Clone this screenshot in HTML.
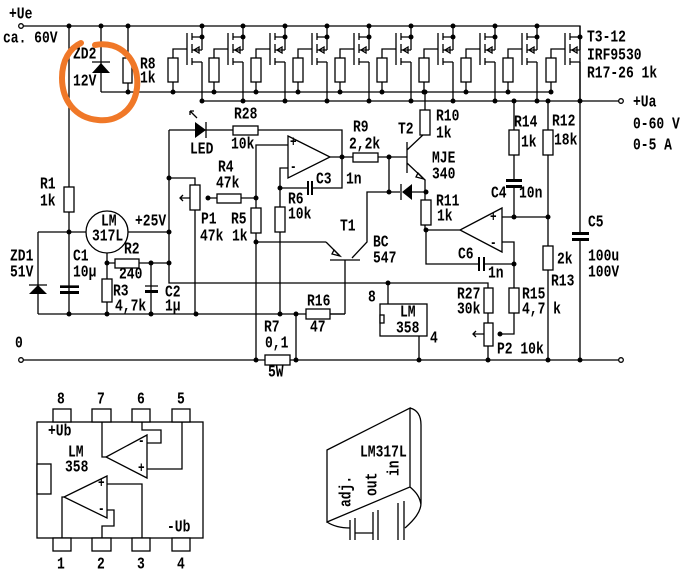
<!DOCTYPE html>
<html><head><meta charset="utf-8">
<style>
html,body{margin:0;padding:0;background:#fff;}
svg{display:block;}
text{font-family:"Liberation Mono",monospace;font-weight:bold;font-size:13px;fill:#000;transform-box:fill-box;transform-origin:0 100%;transform:scaleY(1.3);}
.l{stroke:#000;stroke-width:1.3;fill:none;}
.r{stroke:#000;stroke-width:1.3;fill:#fff;}
.d{fill:#000;}
</style></head>
<body>
<svg width="681" height="575" viewBox="0 0 681 575" xmlns="http://www.w3.org/2000/svg">
<defs>
<g id="m">
 <path class="l" d="M0,0V24 M0,36V76 M-15,7V39 M-10,7V14 M-10,18V27 M-10,32V39 M-10,11H0 M-10,24H0 M-10,36H0 M-15,23H-29V32 M-29,56V66"/>
 <path class="l" d="M-8,24L-3,21V27Z"/>
 <rect class="r" x="-34" y="32" width="10" height="24"/>
 <circle class="d" cx="0" cy="11" r="2.5"/>
 <circle class="d" cx="-29" cy="66" r="2.5"/>
</g>
</defs>

<!-- rails -->
<path class="l" d="M23,26H580V101 M202,101H619 M101,92H550 M23,360H619"/>
<circle class="r" cx="21" cy="26" r="2.3"/>
<circle class="r" cx="621" cy="101" r="2.3"/>
<circle class="r" cx="21" cy="360" r="2.3"/>
<circle class="r" cx="621" cy="360" r="2.3"/>

<use href="#m" x="202" y="26"/><use href="#m" x="243" y="26"/><use href="#m" x="285" y="26"/>
<use href="#m" x="327" y="26"/><use href="#m" x="369" y="26"/><use href="#m" x="411" y="26"/>
<use href="#m" x="453" y="26"/><use href="#m" x="495" y="26"/><use href="#m" x="537" y="26"/>
<use href="#m" x="580" y="26"/>
<g class="d">
<circle cx="69" cy="26" r="2.5"/><circle cx="101" cy="26" r="2.5"/><circle cx="128" cy="26" r="2.5"/>
<circle cx="202" cy="26" r="2.5"/><circle cx="243" cy="26" r="2.5"/><circle cx="285" cy="26" r="2.5"/>
<circle cx="327" cy="26" r="2.5"/><circle cx="369" cy="26" r="2.5"/><circle cx="411" cy="26" r="2.5"/>
<circle cx="453" cy="26" r="2.5"/><circle cx="495" cy="26" r="2.5"/><circle cx="537" cy="26" r="2.5"/>
<circle cx="202" cy="101" r="2.5"/><circle cx="243" cy="101" r="2.5"/><circle cx="285" cy="101" r="2.5"/>
<circle cx="327" cy="101" r="2.5"/><circle cx="369" cy="101" r="2.5"/><circle cx="411" cy="101" r="2.5"/>
<circle cx="453" cy="101" r="2.5"/><circle cx="495" cy="101" r="2.5"/><circle cx="537" cy="101" r="2.5"/>
<circle cx="580" cy="101" r="2.5"/><circle cx="514" cy="101" r="2.5"/><circle cx="548" cy="101" r="2.5"/>
<circle cx="128" cy="92" r="2.5"/><circle cx="425" cy="92" r="2.5"/>
</g>

<!-- ZD2, R8 -->
<path class="l" d="M101,26V92 M128,26V92 M92,62H110"/>
<path d="M101,63L92,73H110Z" fill="#000"/>
<rect class="r" x="123" y="58" width="9" height="25"/>

<!-- R1, LM317 area -->
<path class="l" d="M69,26V314 M38,232H86 M128,232H169 M38,232V314 M38,314H345 M107,252V314 M107,263H169 M151,263V314 M169,130V283H488V288 M60,286H79 M60,292H79 M145,286H158 M145,292H158"/>
<rect class="r" x="64" y="187" width="10" height="25"/>
<circle class="r" cx="107" cy="232" r="21"/>
<rect class="r" x="115" y="259" width="24" height="9"/>
<rect class="r" x="102" y="279" width="10" height="23"/>
<path d="M38,285L29,294H47Z" fill="#000"/>
<path class="l" d="M29,285H47"/>
<rect x="60" y="286" width="19" height="2" fill="#000"/><rect x="145" y="290" width="13" height="3" fill="#000"/>
<rect x="60" y="291" width="19" height="3" fill="#000"/>
<g class="d">
<circle cx="69" cy="232" r="2.5"/><circle cx="169" cy="232" r="2.5"/><circle cx="107" cy="263" r="2.5"/>
<circle cx="151" cy="263" r="2.5"/><circle cx="169" cy="263" r="2.5"/><circle cx="69" cy="314" r="2.5"/>
<circle cx="107" cy="314" r="2.5"/><circle cx="151" cy="314" r="2.5"/><circle cx="196" cy="314" r="2.5"/>
<circle cx="280" cy="314" r="2.5"/><circle cx="296" cy="314" r="2.5"/><circle cx="169" cy="178" r="2.5"/>
</g>

<!-- LED, R28, opamp1 -->
<path class="l" d="M169,130H233 M258,130H342V188H311 M307,188H280 M330,157H353 M378,157H407 M389,157V192 M288,145H256V242 M288,168H280V314 M208,198H217 M241,198H256 M169,178H195V185 M195,210V314 M256,242H326 M256,242V360 M296,314V360"/>
<path d="M195,122L206,130L195,138Z" fill="#000"/><path class="l" d="M206,122V138 M197,118L190,111 M190,111l4,0 M190,111l0,4"/>
<rect class="r" x="233" y="126" width="25" height="9"/>
<path class="r" d="M288,136L330,157L288,178Z"/>
<text x="290" y="147" style="font-size:11px">+</text><text x="290" y="172" style="font-size:11px">-</text>
<rect x="307" y="181" width="2" height="14" fill="#000"/><rect x="311" y="181" width="2" height="14" fill="#000"/>
<rect class="r" x="190" y="185" width="10" height="25"/>
<path class="l" d="M180,198H190 M183,195L180,198L183,201"/>
<rect class="r" x="217" y="194" width="24" height="9"/>
<rect class="r" x="251" y="208" width="10" height="25"/>
<rect class="r" x="275" y="207" width="10" height="25"/>
<g class="d">
<circle cx="342" cy="157" r="2.5"/><circle cx="389" cy="157" r="2.5"/><circle cx="208" cy="198" r="2.5"/>
<circle cx="256" cy="198" r="2.5"/><circle cx="280" cy="188" r="2.5"/><circle cx="256" cy="242" r="2.5"/>
<circle cx="256" cy="360" r="2.5"/><circle cx="296" cy="360" r="2.5"/>
</g>
<rect class="r" x="353" y="153" width="25" height="9"/>
<!-- T1 -->
<path class="l" d="M326,242L340,256 M330,260H360 M345,260V314 M345,314H330 M352,258L367,242V192H389 M389,192H400 M412,192H426"/>
<path class="l" d="M334,250L340,256L332,254Z"/>
<rect class="r" x="306" y="309" width="24" height="10"/>
<!-- diode -->
<path d="M412,184L402,192L412,200Z" fill="#000"/><path class="l" d="M401,184V200"/>
<!-- T2 -->
<path class="l" d="M407,142V173 M407,150L425,133V135 M407,163L425,180V230 M425,92V110"/>
<path class="l" d="M418,173L424,179L416,177Z"/>
<rect class="r" x="420" y="110" width="10" height="25"/>
<rect class="r" x="421" y="200" width="10" height="25"/>
<g class="d"><circle cx="389" cy="192" r="2.5"/><circle cx="426" cy="192" r="2.5"/><circle cx="426" cy="230" r="2.5"/></g>
<!-- R7 -->
<rect class="r" x="265" y="355" width="25" height="10"/>

<!-- opamp 2 area -->
<path class="l" d="M426,230H460 M426,230V264H478 M485,264H514 M502,242H514V334H500 M502,217H548 M514,101V130 M514,155V180 M514,186V217 M548,101V130 M548,155V246 M548,270V360 M580,101V233 M580,241V360 M488,313V323 M488,346V360 M473,334H484 M388,283V304 M419,336V360"/>
<path class="r" d="M502,208L460,230L502,252Z"/>
<text x="490" y="222" style="font-size:11px">+</text><text x="490" y="248" style="font-size:11px">-</text>
<rect x="478" y="257" width="2" height="14" fill="#000"/><rect x="483" y="257" width="2" height="14" fill="#000"/>
<rect x="506" y="179" width="16" height="3" fill="#000"/><rect x="506" y="185" width="16" height="3" fill="#000"/>
<rect x="572" y="232" width="17" height="3" fill="#000"/><rect x="572" y="238" width="17" height="3" fill="#000"/>
<rect class="r" x="509" y="130" width="10" height="25"/>
<rect class="r" x="543" y="130" width="10" height="25"/>
<rect class="r" x="543" y="246" width="10" height="24"/>
<rect class="r" x="509" y="288" width="10" height="25"/>
<rect class="r" x="484" y="288" width="9" height="25"/>
<rect class="r" x="484" y="323" width="9" height="23"/>
<path class="l" d="M476,331L473,334L476,337"/>
<rect class="r" x="380" y="304" width="47" height="32"/>
<rect class="r" x="380" y="315" width="4" height="8"/>
<g class="d">
<circle cx="514" cy="264" r="2.5"/><circle cx="514" cy="217" r="2.5"/><circle cx="548" cy="217" r="2.5"/>
<circle cx="500" cy="334" r="2.5"/><circle cx="388" cy="283" r="2.5"/><circle cx="419" cy="360" r="2.5"/>
<circle cx="488" cy="360" r="2.5"/><circle cx="548" cy="360" r="2.5"/><circle cx="580" cy="360" r="2.5"/>
</g>

<!-- labels -->
<text x="9" y="20">+Ue</text><text x="3" y="44">ca. 60V</text>
<text x="73" y="60">ZD2</text><text x="73" y="87">12V</text>
<text x="140" y="70">R8</text><text x="140" y="84">1k</text>
<text x="587" y="43">T3-12</text><text x="587" y="61">IRF9530</text><text x="587" y="79">R17-26  1k</text>
<text x="633" y="108">+Ua</text><text x="633" y="130">0-60 V</text><text x="633" y="151">0-5 A</text>
<text x="436" y="122">R10</text><text x="436" y="139">1k</text><text x="398" y="135">T2</text>
<text x="353" y="133">R9</text><text x="349" y="150">2,2k</text>
<text x="432" y="164">MJE</text><text x="432" y="180">340</text>
<text x="514" y="128">R14</text><text x="521" y="148">1k</text>
<text x="552" y="127">R12</text><text x="554" y="146">18k</text>
<text x="491" y="199">C4</text><text x="519" y="199">10n</text>
<text x="436" y="207">R11</text><text x="437" y="222">1k</text>
<text x="588" y="228">C5</text><text x="588" y="262">100u</text><text x="588" y="278">100V</text>
<text x="557" y="265">2k</text><text x="551" y="287">R13</text>
<text x="458" y="260">C6</text><text x="488" y="279">1n</text>
<text x="373" y="248">BC</text><text x="373" y="264">547</text><text x="340" y="232">T1</text>
<text x="368" y="303">8</text><text x="400" y="318">LM</text><text x="396" y="334">358</text><text x="430" y="344">4</text>
<text x="457" y="300">R27</text><text x="457" y="315">30k</text>
<text x="522" y="300">R15</text><text x="522" y="315">4,7 k</text>
<text x="497" y="355">P2 10k</text>
<text x="234" y="120">R28</text><text x="231" y="150">10k</text><text x="190" y="155">LED</text>
<text x="218" y="173">R4</text><text x="216" y="189">47k</text>
<text x="316" y="185">C3</text><text x="346" y="185">1n</text>
<text x="201" y="225">P1</text><text x="200" y="242">47k</text>
<text x="231" y="225">R5</text><text x="232" y="242">1k</text>
<text x="288" y="205">R6</text><text x="288" y="220">10k</text>
<text x="40" y="190">R1</text><text x="40" y="207">1k</text>
<text x="101" y="227">LM</text><text x="92" y="242">317L</text><text x="135" y="227">+25V</text>
<text x="10" y="262">ZD1</text><text x="10" y="278">51V</text>
<text x="73" y="262">C1</text><text x="73" y="278">10µ</text>
<text x="124" y="255">R2</text><text x="119" y="280">240</text>
<text x="113" y="297">R3</text><text x="115" y="312">4,7k</text>
<text x="165" y="298">C2</text><text x="165" y="312">1µ</text>
<text x="307" y="307">R16</text><text x="310" y="333">47</text>
<text x="15" y="349">0</text>
<text x="264" y="333">R7</text><text x="265" y="349">0,1</text><text x="268" y="378">5W</text>

<!-- orange circle -->
<path d="M95,45 C120,40 140,60 137,88 C134,112 115,122 98,120 C75,118 62,100 62,78 C62,60 70,48 81,43" fill="none" stroke="#f07828" stroke-width="6" stroke-linecap="round"/>

<!-- LM358 pinout -->
<rect class="r" x="37" y="422" width="166" height="116"/>
<rect class="r" x="53" y="409" width="18" height="13"/><rect class="r" x="92" y="409" width="19" height="13"/>
<rect class="r" x="132" y="409" width="18" height="13"/><rect class="r" x="172" y="409" width="18" height="13"/>
<rect class="r" x="53" y="538" width="18" height="13"/><rect class="r" x="92" y="538" width="19" height="13"/>
<rect class="r" x="132" y="538" width="18" height="13"/><rect class="r" x="172" y="538" width="18" height="13"/>
<rect class="r" x="37" y="464" width="14" height="30"/>
<path class="r" d="M147,435L106,457L147,478Z"/>
<path class="r" d="M107,476L64,497L107,518Z"/>
<path class="l" d="M102,422V457H106 M147,443H161V430H142V422 M147,469H182V422 M62,538V497H64 M107,484H142V538 M107,510H114V526H102V538"/>
<text x="138" y="446" style="font-size:11px">-</text><text x="138" y="473" style="font-size:11px">+</text>
<text x="98" y="488" style="font-size:11px">+</text><text x="98" y="514" style="font-size:11px">-</text>
<text x="57" y="405">8</text><text x="97" y="405">7</text><text x="137" y="405">6</text><text x="177" y="405">5</text>
<text x="57" y="570">1</text><text x="97" y="570">2</text><text x="137" y="570">3</text><text x="177" y="570">4</text>
<text x="48" y="437">+Ub</text><text x="68" y="458">LM</text><text x="65" y="473">358</text><text x="167" y="533">-Ub</text>

<!-- LM317L package -->
<path class="l" d="M327,450L410,408V487L327,522Z M410,408C418,410 421,416 421,425V503C421,512 414,520 405,528 M410,487C416,492 420,497 421,505 M327,522C333,526 340,528 350,528"/>
<path class="l" d="M350,540V520 M355,540V518 M373,540V512 M378,540V510 M398,540V503 M404,540V501 M355,533H373"/>
<text x="360" y="458">LM317L</text>
<g transform="translate(400,476) rotate(-90)"><text x="0" y="0">in</text></g>
<g transform="translate(378,496) rotate(-90)"><text x="0" y="0">out</text></g>
<g transform="translate(352,507) rotate(-90)"><text x="0" y="0">adj.</text></g>
</svg>
</body></html>
